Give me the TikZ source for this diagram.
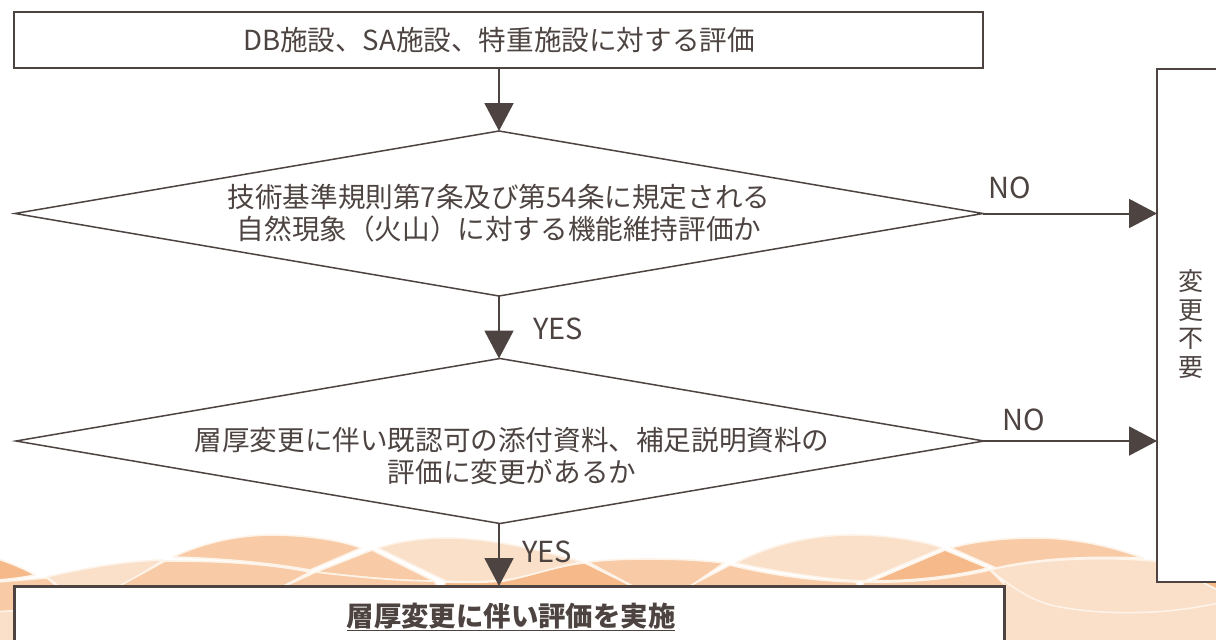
\documentclass[tikz,border=0pt]{standalone}
\usepackage{fontspec}
\setmainfont{Noto Sans CJK JP}
\usetikzlibrary{shapes.geometric,arrows.meta}
\definecolor{ink}{HTML}{4D4442}
\definecolor{wlight}{HTML}{FADFC9}
\definecolor{wmid}{HTML}{F8CBA6}
\definecolor{wdark}{HTML}{F5B98A}
\definecolor{wline}{HTML}{FDF3E8}
\tikzset{
  x=1pt,y=-1pt,
  wave/.style={draw=wline,line width=1.6pt,line join=round},
  flowbox/.style={rectangle,draw=ink,fill=white,line width=1.5pt,inner sep=0pt,outer sep=0pt,anchor=north west},
  decision/.style={diamond,draw=ink,fill=white,line width=1.5pt,inner sep=0pt,outer sep=0pt,minimum width=968pt,minimum height=165pt,anchor=center},
  arr/.style={draw=ink,line width=2pt,-{Triangle[length=28pt,width=29pt,fill=ink]}},
  label/.style={text=ink,font=\fontsize{29}{34}\selectfont,inner sep=0pt,anchor=center},
  body/.style={text=ink,font=\fontsize{27.6}{32}\selectfont,inner sep=0pt,align=center,anchor=center}
}
\begin{document}
\begin{tikzpicture}
\useasboundingbox (0,0) rectangle (1216,640);
% waves
\fill[white] (0,0) rectangle (1216,640);
\fill[wlight] (0,585) rectangle (14,640);
\fill[wmid,draw=wline,line width=1.6pt] (-2,582) -- (47,578) -- (62,590) -- (14,590) -- (14,611) .. controls (8,611) and (4,611) .. (-2,612) -- cycle;
\fill[wdark,wave] (-2,559) .. controls (10,563) and (25,569) .. (35,575) .. controls (20,578) and (10,579) .. (-2,580) -- cycle;
\fill[wlight,wave] (47,577) .. controls (85,568) and (125,561) .. (163,560) -- (116,590) -- (64,590) -- cycle;
\fill[wmid,wave] (165,561) .. controls (215,561) and (265,563) .. (310,572) -- (276,590) -- (112,590) -- cycle;
\fill[wmid,wave] (173,557) .. controls (205,542) and (240,535) .. (272,535) .. controls (305,535) and (340,540) .. (361,548) -- (310,570) .. controls (265,562) and (215,558) .. (173,557) -- cycle;
\fill[wmid,wave] (372,550) -- (434,581) .. controls (405,581) and (365,578) .. (316,572) -- cycle;
\fill[wmid,wave] (316,572) .. controls (365,578) and (405,581) .. (434,581) -- (440,590) -- (276,590) -- cycle;
\fill[wlight,wave] (378,548) .. controls (400,541) and (425,538) .. (446,538) .. controls (490,538) and (540,550) .. (582,562) .. controls (550,568) and (525,578) .. (504,580) .. controls (480,582) and (460,582) .. (446,581) -- cycle;
\fill[wdark,wave] (440,590) -- (446,582) .. controls (470,583) and (490,582) .. (504,581) .. controls (535,575) and (560,565) .. (585,563) -- (640,590) -- cycle;
\fill[wmid,wave] (588,562) .. controls (605,560) and (625,559) .. (647,559) .. controls (675,559) and (700,560) .. (724,563) -- (685,590) -- (640,590) -- cycle;
\fill[wmid,wave] (730,565) .. controls (770,575) and (815,581) .. (856,582) -- (860,590) -- (682,590) -- cycle;
\fill[wlight,wave] (736,563) .. controls (770,545) and (810,535) .. (852,535) .. controls (885,535) and (920,540) .. (942,548) -- (864,581) .. controls (830,580) and (780,572) .. (736,563) -- cycle;
\fill[wdark,wave] (945,550) -- (988,568) .. controls (955,576) and (915,581) .. (872,581) -- cycle;
\fill[wmid,wave] (860,590) -- (864,582) .. controls (915,583) and (955,578) .. (990,570) -- (1010,590) -- cycle;
\fill[wmid,wave] (951,548) .. controls (975,541) and (1005,538) .. (1035,538) .. controls (1075,538) and (1110,546) .. (1143,558) .. controls (1090,556) and (1040,558) .. (996,568) -- cycle;
\fill[wlight] (992,570) .. controls (1040,558) and (1110,556) .. (1163,562) -- (1216,590) -- (1216,640) -- (1004,640) -- (1004,580) -- cycle;
\fill[wdark,wave] (1163,562) .. controls (1185,564) and (1200,566) .. (1218,569) -- (1218,590) -- cycle;
\draw[wave] (990,570) .. controls (1010,585) and (1030,602) .. (1060,607) .. controls (1110,616) and (1170,614) .. (1218,603);
\draw[wave] (990,570) .. controls (1040,558) and (1110,556) .. (1163,562);
% nodes
\node[flowbox,minimum width=969pt,minimum height=56pt] (top) at (14,12) {};
\node[body] (toptext) at (499,40) {DB施設、SA施設、特重施設に対する評価};
\node[decision] (d1) at (499,213.5) {};
\node[body] (d1text) at (499,213) {技術基準規則第7条及び第54条に規定される\\自然現象（火山）に対する機能維持評価か};
\node[decision] (d2) at (500,441) {};
\node[body] (d2text) at (512,456) {層厚変更に伴い既認可の添付資料、補足説明資料の\\評価に変更があるか};
% right box: three visible sides
\node[rectangle,fill=white,inner sep=0pt,outer sep=0pt,minimum width=59pt,minimum height=513pt,anchor=north west] (rb) at (1157,69) {};
\draw[ink,line width=1.5pt] (rb.north east) -- (rb.north west) -- (rb.south west) -- (rb.south east);
\node[body,font=\fontsize{25}{28.7}\selectfont] (rbtext) at (1191,324) {変\\更\\不\\要};
% bottom box: three visible sides
\node[rectangle,fill=white,inner sep=0pt,outer sep=0pt,minimum width=990pt,minimum height=55pt,anchor=north west] (bot) at (14,586) {};
\draw[ink,line width=3pt] (bot.south west) -- (bot.north west) -- (bot.north east) -- (bot.south east);
\node[body,font=\fontsize{27.4}{32}\selectfont\bfseries] (bottext) at (511,617) {\underline{層厚変更に伴い評価を実施}};
% connectors
\draw[arr] (top.south -| d1.north) -- (d1.north);
\draw[arr] (d1.south) -- (d2.north -| d1.south);
\draw[arr] (d2.south -| d1.south) -- (d1.south |- bot.north);
\draw[arr] (d1.east) -- (d1.east -| rb.west);
\draw[arr] (d2.east) -- (d2.east -| rb.west);
% labels
\node[label] (no1) at (1010,188) {NO};
\node[label] (yes1) at (558,329) {YES};
\node[label] (no2) at (1024,420) {NO};
\node[label] (yes2) at (547,552) {YES};
\end{tikzpicture}
\end{document}
